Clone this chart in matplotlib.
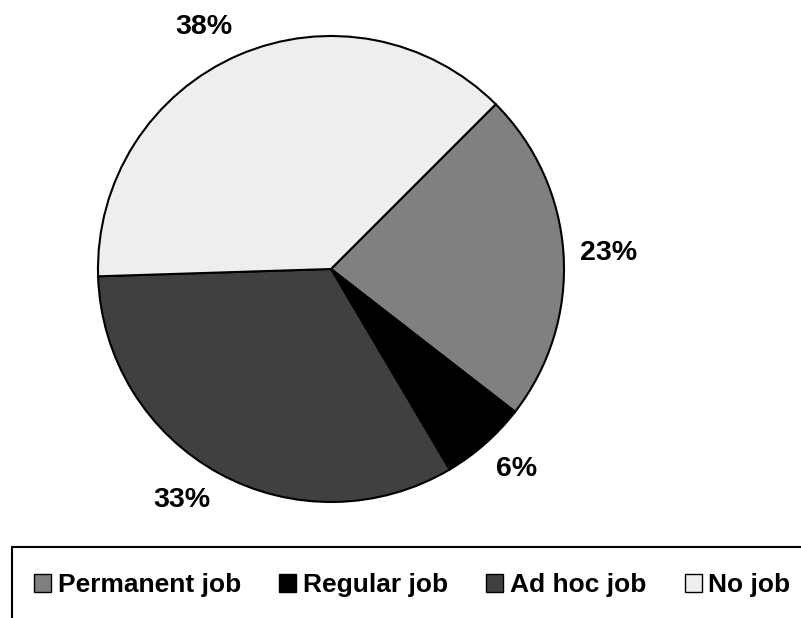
import numpy as np
import matplotlib.pyplot as plt
from matplotlib.patches import Rectangle, Patch

plt.rcParams['font.family'] = ['Liberation Sans', 'DejaVu Sans']
plt.rcParams['font.weight'] = 'bold'

# Data
labels = ['Permanent job', 'Regular job', 'Ad hoc job', 'No job']
shares = [23, 6, 33, 38]
colors = ['#808080', '#000000', '#404040', '#eeeeee']

W, H = 801, 618
fig = plt.figure(figsize=(W / 100, H / 100), dpi=100)

# pie centre (331, 269) px, radius 233 px, axes limits +-1.25
r = 233
half = 1.25 * r
cx, cy = 331, H - 269
ax = fig.add_axes([(cx - half) / W, (cy - half) / H, 2 * half / W, 2 * half / H])
wedges, _ = ax.pie(shares, colors=colors, startangle=45, counterclock=False,
                   wedgeprops=dict(edgecolor='black', linewidth=1.5))

# percentage labels outside, anchored by their nearest corner
for w, s in zip(wedges, shares):
    th = np.deg2rad((w.theta1 + w.theta2) / 2)
    c, sn = np.cos(th), np.sin(th)
    ha = 'left' if c > 0.15 else ('right' if c < -0.15 else 'center')
    va = 'bottom' if sn > 0.15 else ('top' if sn < -0.15 else 'center')
    ax.text(1.07 * c, 1.07 * sn, f'{s}%', ha=ha, va=va,
            fontsize=20.5, fontweight='bold')

ax.set_xlim(-1.25, 1.25)
ax.set_ylim(-1.25, 1.25)
ax.set_aspect('equal')

# legend frame (runs off the right and bottom edges)
fig.patches.append(Rectangle((12 / W, -0.1), 1.0, (H - 547) / H + 0.1,
                             transform=fig.transFigure, fill=False,
                             edgecolor='black', linewidth=1.5))
handles = [Patch(facecolor=c, edgecolor='black', linewidth=1.0) for c in colors]
fig.legend(handles, labels, ncol=4, frameon=False, loc='center left',
           bbox_to_anchor=(10 / W, 1 - 585 / H),
           prop=dict(size=19, weight='bold'),
           handlelength=0.65, handleheight=0.65, handletextpad=0.25, columnspacing=1.45)

fig.savefig('out.png', dpi=100)
